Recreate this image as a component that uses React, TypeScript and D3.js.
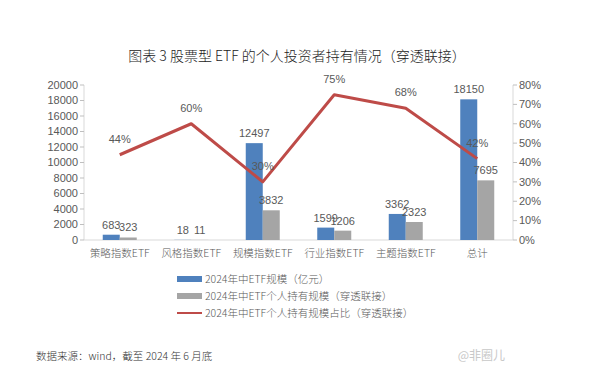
import * as d3 from "d3";
import * as React from "react";

const categories = ["策略指数ETF", "风格指数ETF", "规模指数ETF", "行业指数ETF", "主题指数ETF", "总计"];
const totalScale = [683, 18, 12497, 1599, 3362, 18150];
const personalScale = [323, 11, 3832, 1206, 2323, 7695];
const personalShare = [0.44, 0.6, 0.3, 0.75, 0.68, 0.42];
const leftTicks = [0, 2000, 4000, 6000, 8000, 10000, 12000, 14000, 16000, 18000, 20000];
const rightTicks = [0, 0.1, 0.2, 0.3, 0.4, 0.5, 0.6, 0.7, 0.8];
const legendItems = [
  "2024年中ETF规模（亿元）",
  "2024年中ETF个人持有规模（穿透联接）",
  "2024年中ETF个人持有规模占比（穿透联接）",
];

const BLUE = "#4f81bd";
const GRAY = "#a5a5a5";
const RED = "#be4b48";
const TXT = "#595959";
const sans = "'Liberation Sans Narrow', 'Liberation Sans', 'Noto Sans CJK SC', sans-serif";
const cjk = "'Noto Sans CJK SC', sans-serif";

export default function App() {
  const width = 600, height = 374;
  const left = 84, right = 513, top = 85, bottom = 240;

  const x = d3.scaleBand<string>().domain(categories).range([left, right]);
  const bw = 17;
  const y = d3.scaleLinear().domain([0, 20000]).range([bottom, top]);
  const y2 = d3.scaleLinear().domain([0, 0.8]).range([bottom, top]);
  const cx = (c: string) => (x(c) as number) + x.bandwidth() / 2;

  const line = d3.line<number>()
    .x((_, i) => cx(categories[i]))
    .y((d) => y2(d));

  return (
    <div style={{ margin: -8 }}>
      <svg width={width} height={height} style={{ display: "block", background: "#fff" }}>
        <text x={297} y={61} textAnchor="middle" fontFamily={cjk} fontSize={14} fill="#222" fontWeight={300}>
          图表 3   股票型 ETF 的个人投资者持有情况（穿透联接）
        </text>

        {/* left axis */}
        <line x1={left} x2={left} y1={top} y2={bottom} stroke="#d9d9d9" />
        {leftTicks.map((t) => (
          <g key={"l" + t}>
            <line x1={left - 4} x2={left} y1={y(t)} y2={y(t)} stroke="#bfbfbf" />
            <text x={left - 6} y={y(t)} dy="0.35em" textAnchor="end" fontFamily={sans} fontSize={11} fill={TXT}>{t}</text>
          </g>
        ))}
        {/* right axis */}
        <line x1={right} x2={right} y1={top} y2={bottom} stroke="#d9d9d9" />
        {rightTicks.map((t) => (
          <g key={"r" + t}>
            <line x1={right} x2={right + 4} y1={y2(t)} y2={y2(t)} stroke="#bfbfbf" />
            <text x={right + 6} y={y2(t)} dy="0.35em" textAnchor="start" fontFamily={sans} fontSize={11} fill={TXT}>{Math.round(t * 100) + "%"}</text>
          </g>
        ))}
        <line x1={left} x2={right} y1={bottom} y2={bottom} stroke="#d9d9d9" />

        {categories.map((c, i) => (
          <g key={c}>
            <rect x={cx(c) - bw} y={y(totalScale[i])} width={bw} height={bottom - y(totalScale[i])} fill={BLUE} />
            <rect x={cx(c)} y={y(personalScale[i])} width={bw} height={bottom - y(personalScale[i])} fill={GRAY} />
            <text x={cx(c) - bw / 2} y={y(totalScale[i]) - 6} textAnchor="middle" fontFamily={sans} fontSize={11} fill={TXT}>{totalScale[i]}</text>
            <text x={cx(c) + bw / 2} y={y(personalScale[i]) - 6} textAnchor="middle" fontFamily={sans} fontSize={11} fill={TXT}>{personalScale[i]}</text>
            <text x={cx(c)} y={bottom + 17} textAnchor="middle" fontFamily={cjk} fontSize={10.5} fill={TXT} fontWeight={300}>{c}</text>
          </g>
        ))}

        <path d={line(personalShare) as string} fill="none" stroke={RED} strokeWidth={3} strokeLinejoin="round" />
        {personalShare.map((v, i) => (
          <text key={"p" + i} x={cx(categories[i])} y={y2(v) - 12} textAnchor="middle" fontFamily={sans} fontSize={11} fill={TXT}>
            {Math.round(v * 100) + "%"}
          </text>
        ))}

        {legendItems.map((l, i) => {
          const ly = 279 + i * 17;
          return (
            <g key={l}>
              {i < 2 ? (
                <rect x={177} y={ly - 3} width={25} height={6} fill={i === 0 ? BLUE : GRAY} />
              ) : (
                <line x1={177} x2={202} y1={ly} y2={ly} stroke={RED} strokeWidth={2} />
              )}
              <text x={205} y={ly} dy="0.35em" fontFamily={cjk} fontSize={10.5} fill={TXT} fontWeight={300}>{l}</text>
            </g>
          );
        })}

        <text x={36} y={360} fontFamily={cjk} fontSize={10.5} fill="#333" fontWeight={300}>数据来源：wind，截至 2024 年 6 月底</text>
        <text x={505} y={360} textAnchor="end" fontFamily={cjk} fontSize={12} fill="#c8c8c8">@非圈儿</text>
      </svg>
    </div>
  );
}
